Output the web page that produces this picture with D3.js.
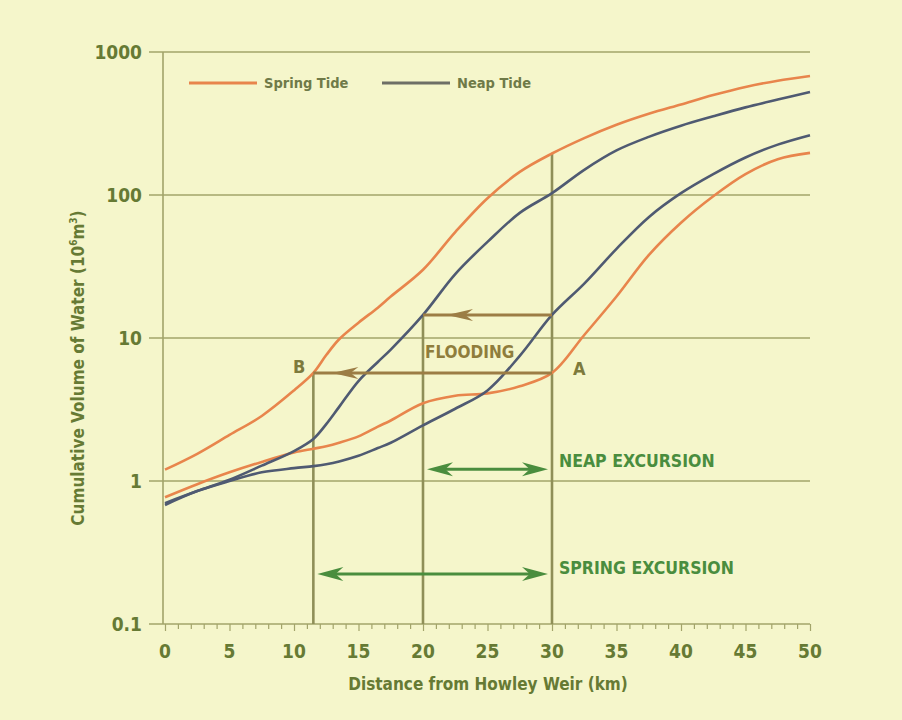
<!DOCTYPE html>
<html>
<head>
<meta charset="utf-8">
<script src="https://cdn.jsdelivr.net/npm/d3@7"></script>
<style>
  html, body { margin: 0; padding: 0; background: #f5f6cb; }
  svg { display: block; }
  text { font-family: "Liberation Sans Narrow", "DejaVu Sans Condensed", "Roboto", sans-serif; font-weight: bold; }
</style>
</head>
<body>
<svg id="chart" width="902" height="720"></svg>
<script>
// Distance from Howley Weir (km)
const distances = [0, 2.5, 5, 7.5, 10, 11.5, 12.5, 13.5, 15, 16.5, 17.5, 20, 22.5, 25, 27.5, 30, 32.5, 35, 37.5, 40, 42.5, 45, 47.5, 50];

// Cumulative volume of water (10^6 m^3)
const springHigh = [1.2, 1.55, 2.1, 2.85, 4.3, 5.7, 7.6, 9.8, 12.8, 16.3, 19.5, 30, 55, 95, 145, 195, 250, 310, 370, 430, 500, 570, 630, 680];
const neapHigh   = [0.7, 0.85, 1.02, 1.28, 1.62, 1.97, 2.5, 3.3, 5.0, 6.8, 8.3, 14.5, 28, 47, 75, 103, 150, 205, 255, 305, 355, 410, 465, 525];
const neapLow    = [0.68, 0.85, 1.0, 1.15, 1.23, 1.27, 1.31, 1.37, 1.5, 1.7, 1.85, 2.45, 3.2, 4.3, 7.5, 14.5, 24, 42, 70, 103, 140, 183, 225, 262];
const springLow  = [0.77, 0.95, 1.15, 1.36, 1.58, 1.68, 1.75, 1.85, 2.05, 2.4, 2.65, 3.5, 3.95, 4.1, 4.6, 5.7, 10.5, 19.5, 38, 64, 98, 140, 178, 197];

const xTicks = [0, 5, 10, 15, 20, 25, 30, 35, 40, 45, 50];
const yTicks = [0.1, 1, 10, 100, 1000];
const yTickLabels = ["0.1", "1", "10", "100", "1000"];

// Flooding construction: level crossings and the distances they link
const floodA = { level: 5.7, from: 30, to: 11.5 };   // spring tide, A -> B
const floodN = { level: 14.5, from: 30, to: 20 };    // neap tide
const springHighAt30 = 195;
const neapExcursion = { level: 1.21, from: 20, to: 30 };
const springExcursion = { level: 0.224, from: 11.5, to: 30 };

const colSpring = "#e8854c";
const colNeap = "#4f5a72";
const colGrid = "#a2a46a";
const colText = "#667a34";
const colFlood = "#9c7d45";
const colExc = "#4a8d3e";

const svg = d3.select("#chart");

const x = d3.scaleLinear().domain([0, 50]).range([165, 810]);
const y = d3.scaleLog().domain([0.1, 1000]).range([624, 52]);

// Horizontal grid at each decade
svg.append("g")
  .selectAll("line")
  .data(yTicks.slice(1))
  .join("line")
  .attr("x1", 149).attr("x2", x(50))
  .attr("y1", d => y(d)).attr("y2", d => y(d))
  .attr("stroke", colGrid).attr("stroke-width", 1.6);

// Left axis line
svg.append("line")
  .attr("x1", 163).attr("x2", 163)
  .attr("y1", y(1000)).attr("y2", y(0.1))
  .attr("stroke", colGrid).attr("stroke-width", 1.6);

// Y tick labels
svg.append("g")
  .selectAll("text")
  .data(yTicks)
  .join("text")
  .attr("x", 142)
  .attr("y", d => y(d))
  .attr("dy", "0.35em")
  .attr("text-anchor", "end")
  .attr("font-size", 19)
  .attr("fill", colText)
  .text((d, i) => yTickLabels[i]);

// Bottom axis built with d3.axisBottom, minor ticks every km
const xAxis = svg.append("g")
  .attr("transform", `translate(0,${y(0.1)})`)
  .call(d3.axisBottom(x).tickValues(d3.range(0, 51, 1)).tickSize(5).tickFormat(""));
xAxis.select(".domain").remove();
xAxis.selectAll(".tick line").attr("stroke", colGrid).attr("stroke-width", 1.2)
  .attr("y2", d => (d % 5 === 0 ? 7 : 5));
svg.append("line")
  .attr("x1", 149).attr("x2", x(50))
  .attr("y1", y(0.1)).attr("y2", y(0.1))
  .attr("stroke", colGrid).attr("stroke-width", 1.6);

svg.append("g")
  .selectAll("text")
  .data(xTicks)
  .join("text")
  .attr("x", d => x(d))
  .attr("y", 658)
  .attr("text-anchor", "middle")
  .attr("font-size", 19)
  .attr("fill", colText)
  .text(d => d);

// Axis titles
svg.append("text")
  .attr("x", 488).attr("y", 690)
  .attr("text-anchor", "middle")
  .attr("font-size", 17)
  .attr("fill", colText)
  .text("Distance from Howley Weir (km)");

const yTitle = svg.append("text")
  .attr("transform", "translate(84,368) rotate(-90)")
  .attr("text-anchor", "middle")
  .attr("font-size", 17)
  .attr("fill", colText);
yTitle.append("tspan").text("Cumulative Volume of Water (10");
yTitle.append("tspan").attr("font-size", 10).attr("dy", -7).text("6");
yTitle.append("tspan").attr("dy", 7).text("m");
yTitle.append("tspan").attr("font-size", 10).attr("dy", -7).text("3");
yTitle.append("tspan").attr("dy", 7).text(")");

// Vertical reference lines at B (11.5 km), 20 km and A (30 km)
const verticals = [
  { d: floodA.to, top: floodA.level },
  { d: floodN.to, top: floodN.level },
  { d: floodA.from, top: springHighAt30 }
];
svg.append("g")
  .selectAll("line")
  .data(verticals)
  .join("line")
  .attr("x1", v => x(v.d)).attr("x2", v => x(v.d))
  .attr("y1", v => y(v.top)).attr("y2", y(0.1))
  .attr("stroke", "#8f8f58").attr("stroke-width", 2.6);

// Tidal curves
const line = d3.line()
  .x((d, i) => x(distances[i]))
  .y(d => y(d))
  .curve(d3.curveCatmullRom.alpha(0.5));

const curves = [
  { v: springLow, c: colSpring },
  { v: neapLow, c: colNeap },
  { v: neapHigh, c: colNeap },
  { v: springHigh, c: colSpring }
];
svg.append("g")
  .selectAll("path")
  .data(curves)
  .join("path")
  .attr("d", d => line(d.v))
  .attr("fill", "none")
  .attr("stroke", d => d.c)
  .attr("stroke-width", 2.6)
  .attr("stroke-linejoin", "round");

// Dart-shaped arrowhead; dir = -1 points left, +1 points right
function dart(g, tipX, yy, dir, color, len, half) {
  const bx = tipX - dir * len;
  g.append("path")
    .attr("d", `M${tipX},${yy} L${bx},${yy - half} L${bx + dir * len * 0.3},${yy} L${bx},${yy + half} Z`)
    .attr("fill", color);
}

// Flooding arrows (horizontal, head part-way along pointing left)
const flood = svg.append("g");
[floodN, floodA].forEach((f, i) => {
  const yy = y(f.level);
  flood.append("line")
    .attr("x1", x(f.from)).attr("x2", x(f.to))
    .attr("y1", yy).attr("y2", yy)
    .attr("stroke", colFlood).attr("stroke-width", 3);
  const tip = i === 0 ? x(f.to) + 24 : x(f.to) + 19;
  dart(flood, tip, yy, -1, colFlood, 26, 6);
});

flood.append("text")
  .attr("x", x(20) + 2).attr("y", 352).attr("dy", "0.35em")
  .attr("font-size", 17).attr("fill", "#8f7d3c")
  .text("FLOODING");
flood.append("text")
  .attr("x", x(floodA.to) - 8).attr("y", y(floodA.level) - 6).attr("dy", "0.35em")
  .attr("text-anchor", "end")
  .attr("font-size", 18).attr("fill", "#7d7a3c")
  .text("B");
flood.append("text")
  .attr("x", x(floodA.from) + 21).attr("y", y(floodA.level) - 4).attr("dy", "0.35em")
  .attr("font-size", 18).attr("fill", "#7d7a3c")
  .text("A");

// Excursion arrows (double headed)
const exc = svg.append("g");
[
  { e: neapExcursion, label: "NEAP EXCURSION", pad: 4, ty: -8 },
  { e: springExcursion, label: "SPRING EXCURSION", pad: 4, ty: -6 }
].forEach(o => {
  const yy = y(o.e.level);
  const x1 = x(o.e.from) + o.pad, x2 = x(o.e.to) - o.pad;
  exc.append("line")
    .attr("x1", x1 + 10).attr("x2", x2 - 10)
    .attr("y1", yy).attr("y2", yy)
    .attr("stroke", colExc).attr("stroke-width", 3);
  dart(exc, x1, yy, -1, colExc, 26, 7);
  dart(exc, x2, yy, 1, colExc, 26, 7);
  exc.append("text")
    .attr("x", x(o.e.to) + 7).attr("y", yy + o.ty).attr("dy", "0.35em")
    .attr("font-size", 17.5).attr("fill", colExc)
    .text(o.label);
});

// Legend
const legend = svg.append("g");
[
  { name: "Spring Tide", c: colSpring, x0: 189, x1: 257 },
  { name: "Neap Tide", c: "#6e6f66", x0: 382, x1: 450 }
].forEach(l => {
  legend.append("line")
    .attr("x1", l.x0).attr("x2", l.x1)
    .attr("y1", 83).attr("y2", 83)
    .attr("stroke", l.c).attr("stroke-width", 3);
  legend.append("text")
    .attr("x", l.x1 + 7).attr("y", 83).attr("dy", "0.35em")
    .attr("font-size", 14.5).attr("fill", "#6f7a48")
    .text(l.name);
});
</script>
</body>
</html>
